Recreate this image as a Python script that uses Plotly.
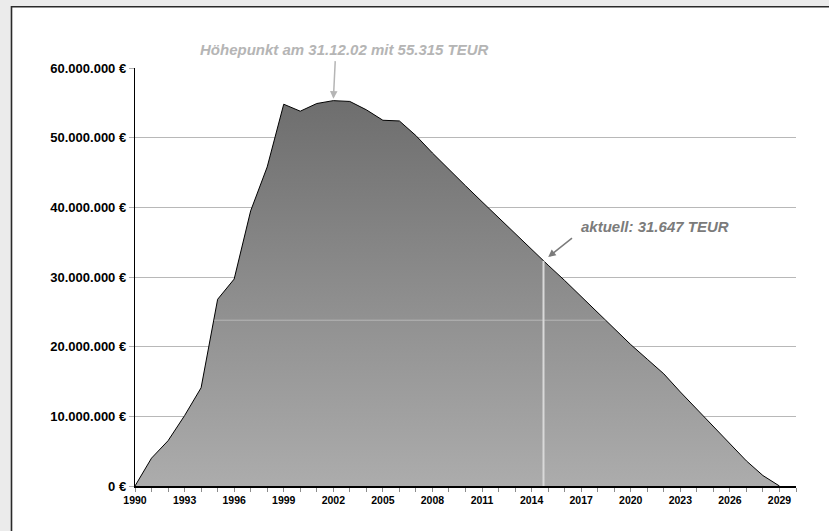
import numpy as np
import plotly.graph_objects as go

# ---------------- data ----------------
years = list(range(1990, 2030))
values_mio = [0.0, 4.0, 6.5, 10.1, 14.1, 26.8, 29.7, 39.5, 45.8, 54.8,
              53.8, 54.9, 55.315, 55.2, 54.0, 52.5, 52.4, 50.3, 47.8, 45.4,
              43.1, 40.8, 38.5, 36.2, 33.9, 31.7, 29.5, 27.2, 24.9, 22.6,
              20.3, 18.2, 16.1, 13.5, 11.0, 8.5, 6.0, 3.6, 1.5, 0.0]
values = [v * 1e6 for v in values_mio]

peak_year = 2002
peak_value = 55.315e6
current_year = 2014.72
reference_level = 23.8e6

y_tickvals = [0, 10e6, 20e6, 30e6, 40e6, 50e6, 60e6]
y_ticktext = ["0 €", "10.000.000 €", "20.000.000 €", "30.000.000 €",
              "40.000.000 €", "50.000.000 €", "60.000.000 €"]
x_tickvals = list(range(1990, 2030, 3))
x_ticktext = [str(y) for y in x_tickvals]

peak_label = "Höhepunkt am 31.12.02 mit 55.315 TEUR"
current_label = "aktuell: 31.647 TEUR"

# derived positions from the series
xs = np.array(years, dtype=float)
ys = np.array(values)
current_value = float(np.interp(current_year, xs, ys))
ip = years.index(peak_year)
ref_left = float(np.interp(reference_level, ys[:ip + 1], xs[:ip + 1]))
ref_right = float(np.interp(-reference_level, -ys[ip:], xs[ip:]))

FONT = "Liberation Sans, Arial, Helvetica, sans-serif"

fig = go.Figure()
fig.add_trace(go.Scatter(
    x=years, y=values, mode="lines", fill="tozeroy",
    line=dict(color="#000000", width=1),
    fillgradient=dict(type="vertical",
                      colorscale=[[0, "#acacac"], [1, "#6e6e6e"]]),
    hoverinfo="skip", showlegend=False))

# faint horizontal line inside the area
fig.add_trace(go.Scatter(
    x=[ref_left, ref_right], y=[reference_level, reference_level],
    mode="lines", line=dict(color="rgba(255,255,255,0.35)", width=1),
    hoverinfo="skip", showlegend=False))

# current position marker
fig.add_trace(go.Scatter(
    x=[current_year, current_year], y=[0, current_value],
    mode="lines", line=dict(color="#d9d9d9", width=2),
    hoverinfo="skip", showlegend=False))

L, R, T, B = 135, 33, 68, 45
W, H = 829, 531
pw, ph = W - L - R, H - T - B


def px_x(p):
    return (p - L) / pw


def px_y(p):
    return (H - B - p) / ph


shapes = [
    # grey outside strips
    dict(type="rect", xref="paper", yref="paper", x0=px_x(-5), x1=px_x(11),
         y0=px_y(H + 5), y1=px_y(-5), fillcolor="#ebebeb", line_width=0, layer="above"),
    dict(type="rect", xref="paper", yref="paper", x0=px_x(-5), x1=px_x(W + 5),
         y0=px_y(6), y1=px_y(-5), fillcolor="#ebebeb", line_width=0, layer="above"),
    # dark frame lines
    dict(type="line", xref="paper", yref="paper", x0=px_x(11.5), x1=px_x(11.5),
         y0=px_y(H + 5), y1=px_y(6), line=dict(color="#2a2a2a", width=1.6)),
    dict(type="line", xref="paper", yref="paper", x0=px_x(11), x1=px_x(W + 5),
         y0=px_y(6.8), y1=px_y(6.8), line=dict(color="#2a2a2a", width=1.6)),
]

annotations = [
    dict(x=2002.7, y=px_y(49), xref="x", yref="paper", text=peak_label, showarrow=False,
         font=dict(family=FONT, size=15, color="#b5b5b5", weight="bold", style="italic"),
         xanchor="center", yanchor="middle"),
    dict(x=peak_year, y=peak_value, xref="x", yref="y", text="", showarrow=True,
         ax=2, ay=-41, arrowhead=2, arrowsize=1, arrowwidth=1.5,
         arrowcolor="#b5b5b5", standoff=2),
    dict(x=2021.48, y=37.22e6, xref="x", yref="y", text=current_label, showarrow=False,
         font=dict(family=FONT, size=15, color="#7b7b7b", weight="bold", style="italic"),
         xanchor="center", yanchor="middle"),
    dict(x=current_year, y=current_value, xref="x", yref="y", text="", showarrow=True,
         ax=30, ay=-24, arrowhead=2, arrowsize=1, arrowwidth=1.5,
         arrowcolor="#7b7b7b", standoff=6),
]

fig.update_layout(
    width=W, height=H,
    margin=dict(l=L, r=R, t=T, b=B, pad=0),
    paper_bgcolor="#ffffff", plot_bgcolor="rgba(0,0,0,0)",
    shapes=shapes, annotations=annotations, showlegend=False,
    xaxis=dict(range=[1990, 2030], tickvals=x_tickvals, ticktext=x_ticktext,
               ticks="outside", ticklen=4, tickcolor="#8c8c8c", tickwidth=1,
               minor=dict(dtick=1, tick0=1990, ticks="outside", ticklen=4,
                          tickcolor="#8c8c8c", tickwidth=1, showgrid=False),
               showgrid=False, zeroline=False, showline=True,
               linecolor="#000000", linewidth=1.5, automargin=False,
               tickfont=dict(family=FONT, size=10.5, color="#000000", weight="bold")),
    yaxis=dict(range=[0, 60e6], tickvals=y_tickvals, ticktext=y_ticktext,
               ticks="outside", ticklen=5, tickcolor="#b0b0b0", tickwidth=1,
               showgrid=True, gridcolor="#b8b8b8", gridwidth=1,
               zeroline=False, showline=True, linecolor="#000000", linewidth=1.2,
               automargin=False,
               tickfont=dict(family=FONT, size=13, color="#000000", weight="bold")),
)

fig.write_html(
    "out.html",
    config={"displayModeBar": False, "staticPlot": True},
    post_script="document.body.style.margin='0px';document.body.style.padding='0px';"
                "document.documentElement.style.overflow='hidden';",
)
